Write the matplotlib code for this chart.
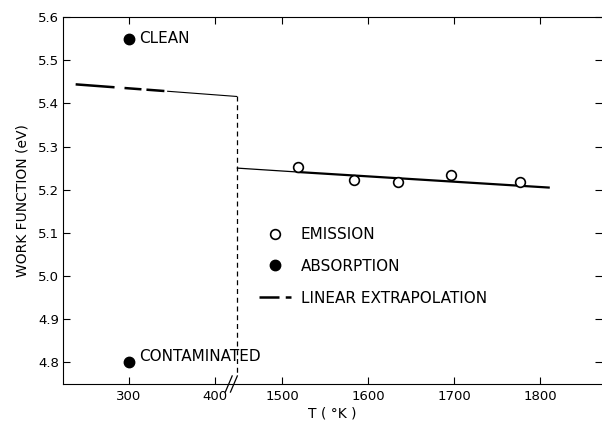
import numpy as np
import matplotlib
matplotlib.use("Agg")
import matplotlib.pyplot as plt

# emission data (open circles)
emis_T = [1518, 1584, 1635, 1697, 1777]
emis_W = [5.252, 5.223, 5.218, 5.235, 5.218]

# absorption data (filled circles)
abs_T = [300, 300]
abs_W = [5.55, 4.80]
abs_labels = ["CLEAN", "CONTAMINATED"]

# fitted line through emission points (thin start, thick body)
fit_thin_T = [1448, 1518]
fit_thin_W = [5.250, 5.241]
fit_T = [1518, 1810]
fit_W = [5.241, 5.205]

# linear extrapolation down to room temperature
extrap_dash_T = [238, 345]
extrap_dash_W = [5.444, 5.428]
extrap_solid_T = [345, 425]
extrap_solid_W = [5.428, 5.416]

# vertical dashed connector at the axis break
conn_T = [426, 426]
conn_W = [5.416, 4.77]

xticks = [300, 400, 1500, 1600, 1700, 1800]
yticks = [4.8, 4.9, 5.0, 5.1, 5.2, 5.3, 5.4, 5.5, 5.6]

# broken axis: everything above 900 K is shifted left
GAP = 1022
def fwd(x):
    x = np.asarray(x, dtype=float)
    return np.where(x > 900, x - GAP, x)

def inv(u):
    u = np.asarray(u, dtype=float)
    return np.where(u > 426, u + GAP, u)

fig = plt.figure(figsize=(6.02, 4.25), dpi=100)
ax = fig.add_axes([63 / 602, 1 - 384 / 425, (602 - 63) / 602, (384 - 17) / 425])
ax.set_xscale("function", functions=(fwd, inv))

# hand-drawn looking dashes: one long dash then two short ones
ax.plot(extrap_dash_T, extrap_dash_W, color="black", lw=1.8,
        ls=(0, (15.6, 4, 6.8, 2, 7.2, 10)))
ax.plot(extrap_solid_T, extrap_solid_W, color="black", lw=0.8)
ax.plot(conn_T, conn_W, color="black", lw=0.9, ls=(0, (4, 3)))
ax.plot(fit_thin_T, fit_thin_W, color="black", lw=0.9)
ax.plot(fit_T, fit_W, color="black", lw=1.6)

ax.plot(emis_T, emis_W, "o", mfc="white", mec="black", mew=1.2, ms=7, zorder=3)
ax.plot(abs_T, abs_W, "o", color="black", ms=7.5, zorder=3)
ax.annotate(abs_labels[0], (abs_T[0], abs_W[0]), xytext=(7, 0),
            textcoords="offset points", va="center", ha="left", fontsize=11)
ax.annotate(abs_labels[1], (abs_T[1], abs_W[1]), xytext=(7, 4),
            textcoords="offset points", va="center", ha="left", fontsize=11)

# legend
h1, = ax.plot([], [], "o", mfc="white", mec="black", mew=1.2, ms=7)
h2, = ax.plot([], [], "o", color="black", ms=7.5)
h3, = ax.plot([], [], color="black", lw=1.8, ls=(0, (8, 2.5)))
ax.legend([h1, h2, h3], ["EMISSION", "ABSORPTION", "LINEAR EXTRAPOLATION"],
          loc="upper left", bbox_to_anchor=(0.3636, 0.428), frameon=False,
          fontsize=11, borderpad=0, borderaxespad=0, handlelength=2.1,
          handletextpad=0.65, labelspacing=1.1)

# break marks on the bottom axis
for bx in (416, 422):
    ax.plot([bx - 4, bx + 4], [-0.022, 0.022], color="black", lw=0.9,
            transform=ax.get_xaxis_transform(), clip_on=False)

ax.set_xlim(223.3, 1872)
ax.set_ylim(4.75, 5.6)
ax.set_xticks(xticks)
ax.set_xticklabels([str(t) for t in xticks])
ax.set_yticks(yticks)
ax.set_yticklabels([f"{v:.1f}" for v in yticks])
ax.minorticks_off()
ax.tick_params(direction="in", length=5, width=0.8, labelsize=9.5,
               top=True, right=True, pad=4)
ax.tick_params(axis="y", pad=3)
ax.spines["right"].set_visible(False)
for s in ("left", "top", "bottom"):
    ax.spines[s].set_linewidth(0.8)

ax.set_xlabel("T ( °K )", fontsize=10, labelpad=3)
ax.set_ylabel("WORK FUNCTION (eV)", fontsize=10, labelpad=6)

fig.savefig("out.png", dpi=100)
